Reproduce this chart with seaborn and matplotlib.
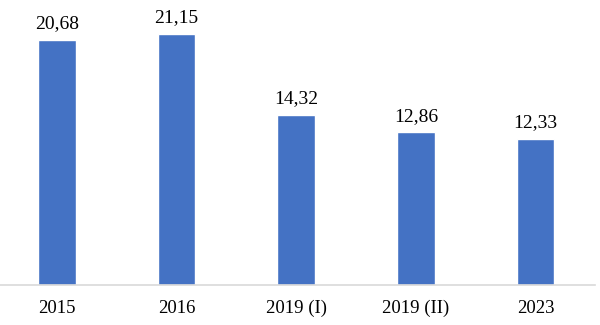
import matplotlib
matplotlib.use("Agg")
import matplotlib.pyplot as plt
import seaborn as sns
import pandas as pd

categories = ["2015", "2016", "2019 (I)", "2019 (II)", "2023"]
values = [20.68, 21.15, 14.32, 12.86, 12.33]
labels = ["20,68", "21,15", "14,32", "12,86", "12,33"]

sns.set_theme(style="white")
plt.rcParams['font.family'] = ['Liberation Serif', 'DejaVu Serif']

df = pd.DataFrame({"cat": categories, "val": values})

fig = plt.figure(figsize=(6, 3.25), dpi=100)
ax = fig.add_axes([0.0, 40/325, 595/600, 285/325])
sns.barplot(data=df, x="cat", y="val", color="#4472C4", width=0.315, ax=ax, saturation=1)

for i, (v, lab) in enumerate(zip(values, labels)):
    ax.annotate(lab, (i, v), xytext=(0, 8.3), textcoords="offset points",
                ha="center", va="baseline", fontsize=14, color="black")

ax.set_ylim(0, 24.01)
ax.set_xlim(-0.477, 4.498)
ax.set_xlabel("")
ax.set_ylabel("")
ax.set_yticks([])
for s in ["top", "left", "right"]:
    ax.spines[s].set_visible(False)
ax.spines["bottom"].set_color("#D9D9D9")
ax.spines["bottom"].set_linewidth(1.2)
ax.tick_params(axis="x", length=0, pad=10.5, labelsize=13.5, colors="black")
ax.set_facecolor("white")
fig.patch.set_facecolor("white")

fig.savefig("out.png", dpi=100)
